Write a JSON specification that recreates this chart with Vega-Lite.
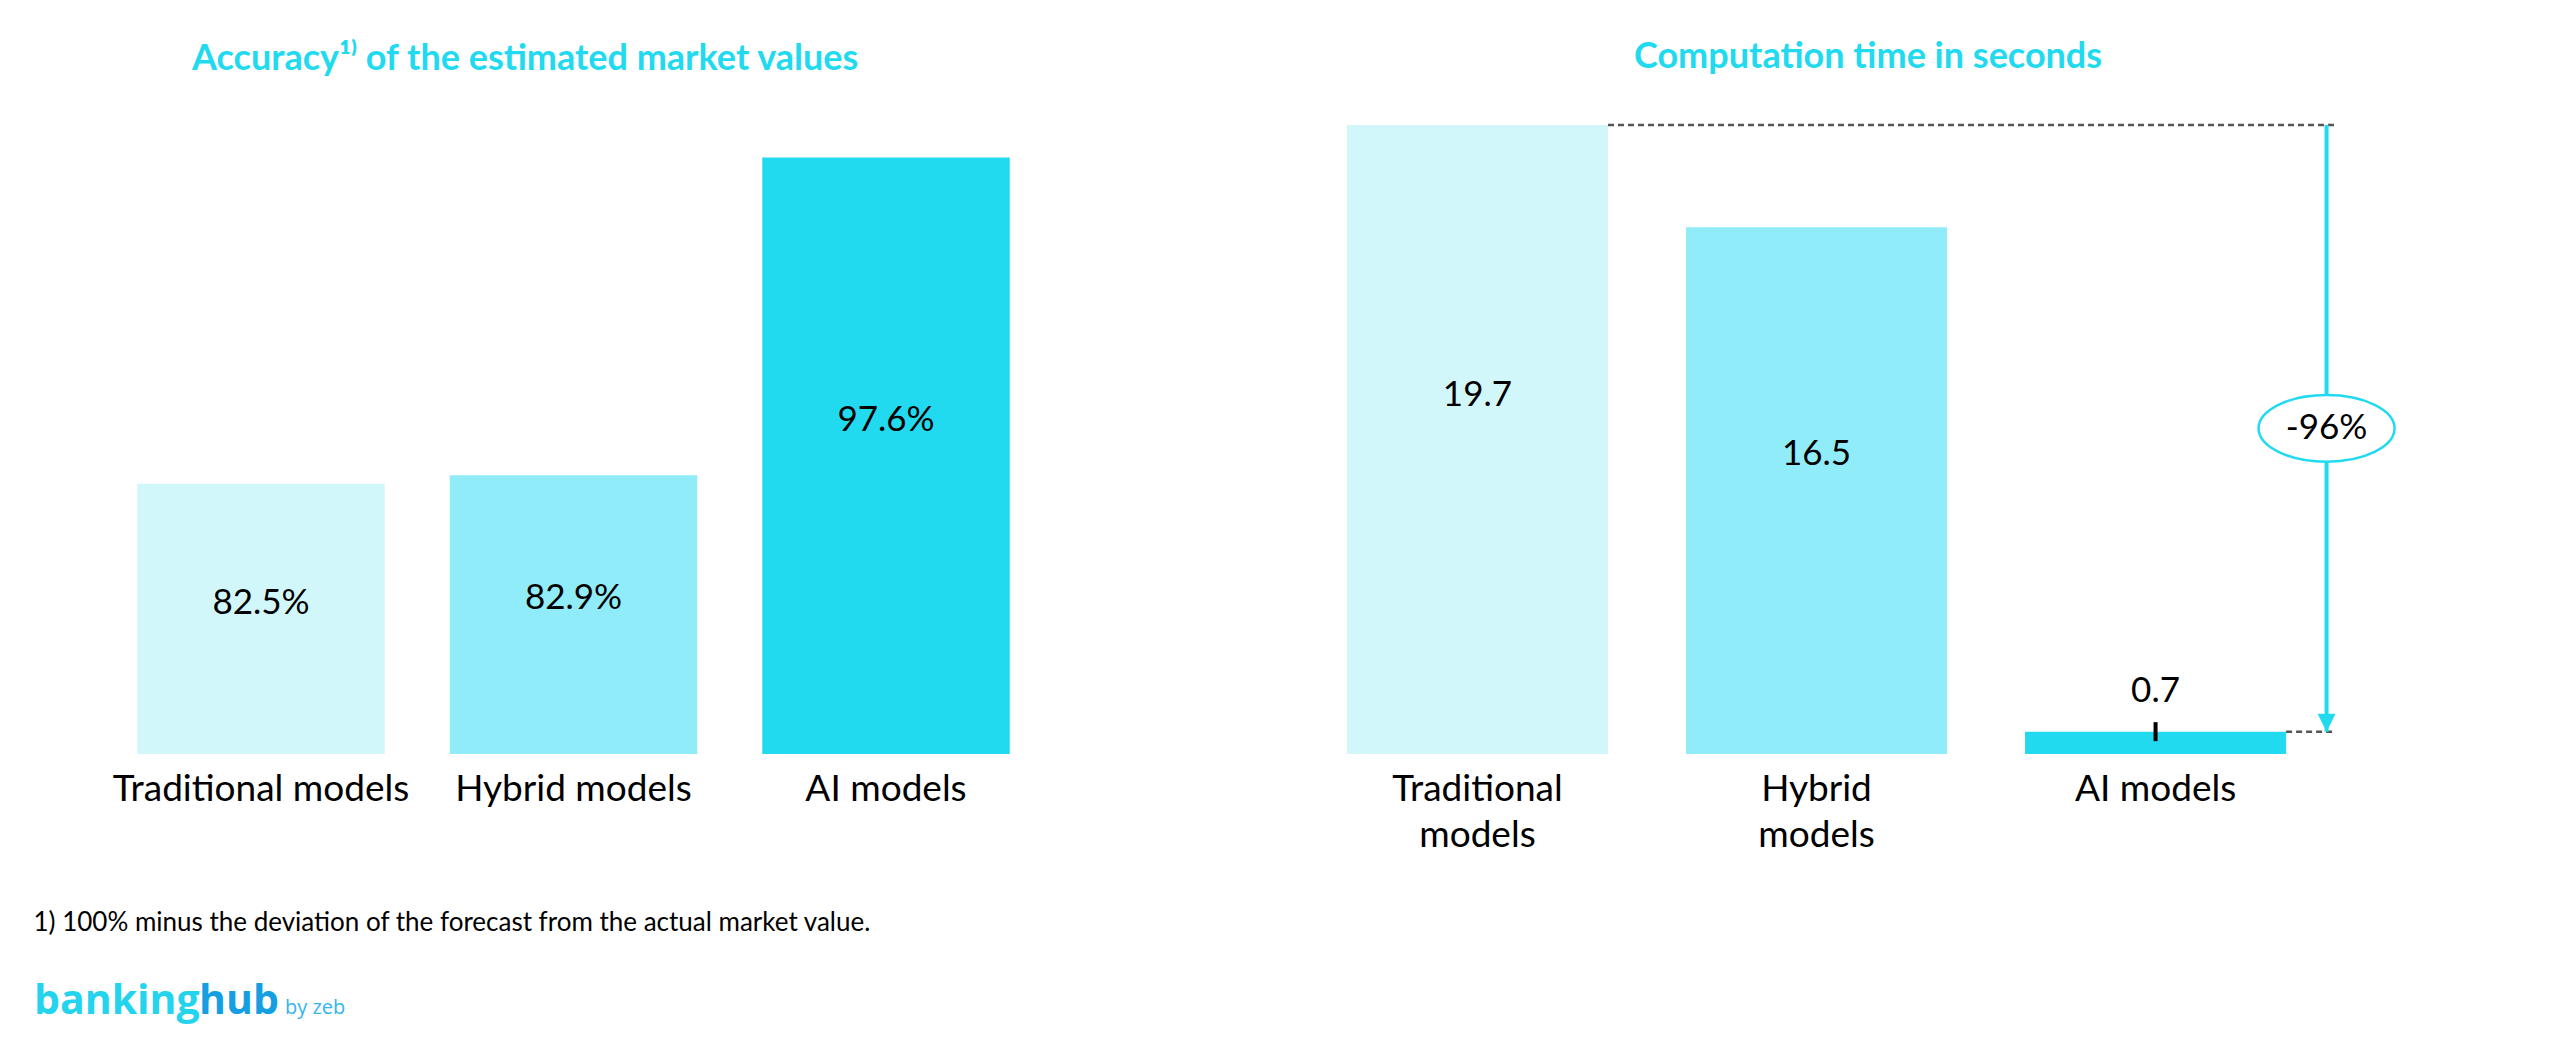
{
  "$schema": "https://vega.github.io/schema/vega-lite/v6.json",
  "padding": {"left": 33, "top": 39, "right": 5, "bottom": 5},
  "background": "white",
  "config": {
    "view": {"stroke": null},
    "font": "Lato",
    "text": {"font": "Lato", "color": "#000000"}
  },
  "datasets": {
    "accuracy": [
      {"model": "Traditional models", "value": 82.5, "label": "82.5%"},
      {"model": "Hybrid models", "value": 82.9, "label": "82.9%"},
      {"model": "AI models", "value": 97.6, "label": "97.6%"}
    ],
    "time": [
      {"model": "Traditional models", "value": 19.7},
      {"model": "Hybrid models", "value": 16.5},
      {"model": "AI models", "value": 0.7}
    ],
    "guides": [
      {"from": "Traditional models", "to": "AI models", "value": 19.7},
      {"from": "AI models", "to": "AI models", "value": 0.7}
    ],
    "change": [
      {"model": "AI models", "start": 19.7, "end": 0.7, "label": "-96%"}
    ]
  },
  "vconcat": [
    {
      "hconcat": [
        {
          "width": 935,
          "height": 629,
          "title": {"text": "Accuracy¹⁾ of the estimated market values", "anchor": "start", "dx": 159, "offset": 19, "baseline": "alphabetic", "fontSize": 36, "fontWeight": "bold", "color": "#22DAEF", "font": "Lato"},
          "data": {"name": "accuracy"},
          "encoding": {
            "x": {
              "field": "model", "type": "nominal",
              "scale": {"domain": ["Traditional models", "Hybrid models", "AI models"], "paddingInner": 0.208, "paddingOuter": 0.1},
              "axis": {
                "domain": false, "ticks": false, "labelAngle": 0, "labelLimit": 0,
                "labelFont": "Lato", "labelFontSize": 37, "labelColor": "#000000", "labelPadding": 17,
                "title": "1) 100% minus the deviation of the forecast from the actual market value.",
                "titleX": -73, "titleY": 176, "titleAlign": "left", "titleBaseline": "alphabetic",
                "titleFont": "Lato", "titleFontSize": 26, "titleFontWeight": "normal", "titleColor": "#000000"
              }
            }
          },
          "layer": [
            {
              "mark": {"type": "bar"},
              "encoding": {
                "y": {"field": "value", "type": "quantitative", "scale": {"domain": [70, 99.1], "nice": false, "zero": false}, "axis": null},
                "y2": {"datum": 70},
                "color": {"field": "model", "type": "nominal", "scale": {"domain": ["Traditional models", "Hybrid models", "AI models"], "range": ["#D2F7FA", "#90ECF8", "#22DAEF"]}, "legend": null}
              }
            },
            {
              "transform": [{"calculate": "70 + 0.56 * (datum.value - 70)", "as": "pos"}],
              "mark": {"type": "text", "fontSize": 35, "font": "Lato", "baseline": "middle", "color": "#000000"},
              "encoding": {
                "y": {"field": "pos", "type": "quantitative"},
                "text": {"field": "label"}
              }
            }
          ]
        },
        {
          "width": 1007,
          "height": 629,
          "title": {"text": "Computation time in seconds", "anchor": "start", "dx": 321, "offset": 19, "baseline": "alphabetic", "fontSize": 36, "fontWeight": "bold", "color": "#22DAEF", "font": "Lato"},
          "encoding": {
            "x": {
              "field": "model", "type": "nominal",
              "scale": {"domain": ["Traditional models", "Hybrid models", "AI models"], "paddingInner": 0.23, "paddingOuter": 0.1},
              "axis": {
                "domain": false, "ticks": false, "labelAngle": 0, "labelLimit": 0, "title": null,
                "labelFont": "Lato", "labelFontSize": 37, "labelColor": "#000000", "labelPadding": 17, "labelLineHeight": 46,
                "labelExpr": "datum.label == 'AI models' ? datum.label : split(datum.label, ' ')"
              }
            }
          },
          "layer": [
            {
              "data": {"name": "time"},
              "mark": {"type": "bar"},
              "encoding": {
                "y": {"field": "value", "type": "quantitative", "scale": {"domain": [0, 19.7], "nice": false}, "axis": null},
                "color": {"field": "model", "type": "nominal", "scale": {"domain": ["Traditional models", "Hybrid models", "AI models"], "range": ["#D2F7FA", "#90ECF8", "#22DAEF"]}, "legend": null}
              }
            },
            {
              "data": {"name": "time"},
              "transform": [{"filter": "datum.value > 5"}, {"calculate": "0.57 * datum.value", "as": "pos"}],
              "mark": {"type": "text", "fontSize": 35, "font": "Lato", "baseline": "middle", "color": "#000000"},
              "encoding": {
                "y": {"field": "pos", "type": "quantitative"},
                "text": {"field": "value", "type": "quantitative", "format": ".1f"}
              }
            },
            {
              "data": {"name": "time"},
              "transform": [{"filter": "datum.value <= 5"}],
              "mark": {"type": "text", "fontSize": 35, "font": "Lato", "baseline": "middle", "dy": -41, "color": "#000000"},
              "encoding": {
                "y": {"field": "value", "type": "quantitative"},
                "text": {"field": "value", "type": "quantitative", "format": ".1f"}
              }
            },
            {
              "data": {"name": "time"},
              "transform": [{"filter": "datum.value <= 5"}],
              "mark": {"type": "tick", "orient": "vertical", "size": 19, "thickness": 4, "color": "#000000", "opacity": 1},
              "encoding": {
                "y": {"field": "value", "type": "quantitative"}
              }
            },
            {
              "data": {"name": "guides"},
              "mark": {"type": "rule", "color": "#555555", "strokeWidth": 2.5, "strokeDash": [6, 4]},
              "encoding": {
                "x": {"field": "from", "type": "nominal", "bandPosition": 1},
                "x2": {"field": "to", "bandPosition": 1.19},
                "y": {"field": "value", "type": "quantitative"}
              }
            },
            {
              "data": {"name": "change"},
              "mark": {"type": "rule", "color": "#22DAEF", "strokeWidth": 4},
              "encoding": {
                "x": {"field": "model", "type": "nominal", "bandPosition": 1.155},
                "y": {"field": "start", "type": "quantitative"},
                "y2": {"field": "end"}
              }
            },
            {
              "data": {"name": "change"},
              "mark": {"type": "point", "shape": "M-1,-1L1,-1L0,1Z", "size": 324, "filled": true, "color": "#22DAEF", "opacity": 1, "yOffset": -9},
              "encoding": {
                "x": {"field": "model", "type": "nominal", "bandPosition": 1.155},
                "y": {"field": "end", "type": "quantitative"}
              }
            },
            {
              "data": {"name": "change"},
              "transform": [{"calculate": "(datum.start + datum.end) / 2", "as": "mid"}],
              "mark": {"type": "point", "shape": "M-1,0A1,0.49,0,1,1,1,0A1,0.49,0,1,1,-1,0Z", "size": 18496, "filled": true, "fill": "#FFFFFF", "stroke": "#22DAEF", "strokeWidth": 2.5, "opacity": 1},
              "encoding": {
                "x": {"field": "model", "type": "nominal", "bandPosition": 1.155},
                "y": {"field": "mid", "type": "quantitative"}
              }
            },
            {
              "data": {"name": "change"},
              "transform": [{"calculate": "(datum.start + datum.end) / 2", "as": "mid"}],
              "mark": {"type": "text", "fontSize": 35, "font": "Lato", "baseline": "middle", "color": "#000000"},
              "encoding": {
                "x": {"field": "model", "type": "nominal", "bandPosition": 1.155},
                "y": {"field": "mid", "type": "quantitative"},
                "text": {"field": "label"}
              }
            }
          ]
        }
      ],
      "spacing": 272
    },
    {
      "hconcat": [
        {
          "width": 165, "height": 1,
          "title": {"text": "banking", "anchor": "start", "offset": 0, "dx": -72, "baseline": "alphabetic", "fontSize": 41, "font": "Open Sans", "fontWeight": "bold", "color": "#24D4EE"},
          "data": {"values": [{}]},
          "mark": {"type": "text", "text": ""},
          "encoding": {}
        },
        {
          "width": 86, "height": 1,
          "title": {"text": "hub", "anchor": "start", "offset": 0, "dx": -72, "baseline": "alphabetic", "fontSize": 41, "font": "Open Sans", "fontWeight": "bold", "color": "#159FE2"},
          "data": {"values": [{}]},
          "mark": {"type": "text", "text": ""},
          "encoding": {}
        },
        {
          "width": 70, "height": 1,
          "title": {"text": "by zeb", "anchor": "start", "offset": 0, "dx": -72, "dy": -21, "baseline": "alphabetic", "fontSize": 20, "font": "Open Sans", "fontWeight": "normal", "color": "#33B6EE"},
          "data": {"values": [{}]},
          "mark": {"type": "text", "text": ""},
          "encoding": {}
        }
      ],
      "spacing": 0,
      "bounds": "flush"
    }
  ],
  "spacing": 45
}
